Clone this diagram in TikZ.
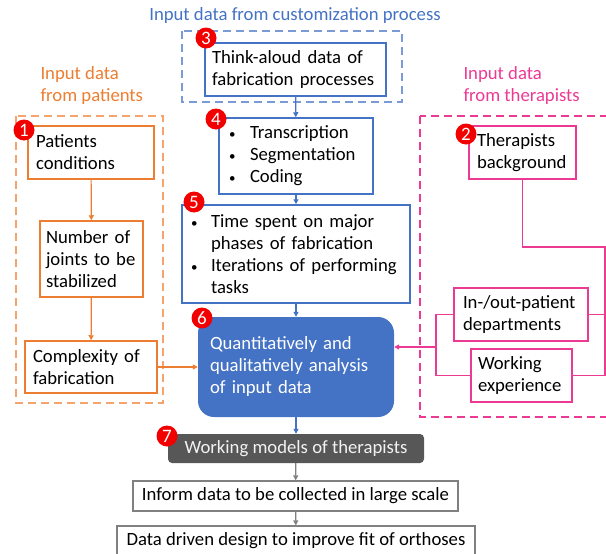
\documentclass[tikz,border=0pt]{standalone}
\usepackage{fontspec}
\setmainfont{Carlito}
\usetikzlibrary{arrows.meta}
\definecolor{cblue}{HTML}{4472C4}
\definecolor{cbluedash}{HTML}{7C9BD6}
\definecolor{corange}{HTML}{ED7D31}
\definecolor{corangedash}{HTML}{F4A46C}
\definecolor{cpink}{HTML}{EC3A94}
\definecolor{cdark}{HTML}{575757}
\definecolor{cgrey}{HTML}{808080}
\definecolor{cred}{HTML}{F20000}
\newcommand{\bul}[1]{\makebox[#1][l]{\fontsize{13}{13}\selectfont\textbullet}}
\begin{document}
\begin{tikzpicture}[x=1pt, y=-1pt,
	every node/.style={font=\fontsize{18.7}{22}\selectfont, inner ysep=0pt},
	box/.style={draw, line width=1.5pt, align=left, inner xsep=8pt},
	bluebox/.style={box, draw=cblue},
	orangebox/.style={box, draw=corange},
	pinkbox/.style={box, draw=cpink},
	greybox/.style={draw=cgrey, line width=1.2pt, align=center},
	group/.style={line width=2.2pt, dash pattern=on 8pt off 5pt},
	badge/.style={circle, fill=cred, text=white, minimum size=21pt, inner sep=0pt, font=\fontsize{19}{19}\selectfont},
	arr/.style={line width=1.2pt, -{Triangle[length=5pt,width=5pt]}}]
	\useasboundingbox (0,0) rectangle (606,554);
	% dashed groups
	\draw[group, cbluedash] (182,31) rectangle (402,102);
	\draw[group, corangedash] (16,116) rectangle (163,403);
	\draw[group, cpink] (420,116) rectangle (616,417);
	\node[text=cblue] (ttop) at (295,16) {Input data from customization process};
	\node[text=corange, align=left, anchor=west] (tleft) at (37,86) {Input data\\from patients};
	\node[text=cpink, align=left, anchor=west] (tright) at (460,86) {Input data\\from therapists};
	% centre column
	\node[bluebox, inner xsep=7pt, text width=167, minimum height=53] (think) at (295.5,69.5) {Think-aloud data of\\fabrication processes};
	\node[bluebox, inner xsep=10pt, text width=134, minimum height=76] (steps) at (296,156) {\bul{21pt}Transcription\\\bul{21pt}Segmentation\\\bul{21pt}Coding};
	\node[bluebox, inner xsep=9pt, text width=210, minimum height=98] (phases) at (296,254) {\bul{20pt}Time spent on major\\\hspace*{20pt}phases of fabrication\\\bul{20pt}Iterations of performing\\\hspace*{20pt}tasks};
	\node[fill=cblue, rounded corners=16pt, text=white, align=left, inner xsep=12pt, text width=172, minimum height=100] (analysis) at (296,367) {Quantitatively and\\qualitatively analysis\\of input data};
	\node[fill=cdark, rounded corners=4pt, text=white!95!black, minimum width=256, minimum height=29] (models) at (296,448.5) {Working models of therapists};
	\node[greybox, minimum width=325, minimum height=30] (inform) at (295.5,496) {Inform data to be collected in large scale};
	\node[greybox, minimum width=358, minimum height=30] (design) at (296,541) {Data driven design to improve fit of orthoses};
	% patients
	\node[orangebox, text width=110, minimum height=53] (cond) at (91,152.5) {Patients\\conditions};
	\node[orangebox, inner xsep=6pt, text width=91, minimum height=76] (joints) at (91.5,259) {Number of\\joints to be\\stabilized};
	\node[orangebox, text width=116, minimum height=52] (complex) at (91,367) {Complexity of\\fabrication};
	% therapists
	\node[pinkbox, inner xsep=8pt, text width=91, minimum height=53] (backgr) at (522.5,152.5) {Therapists\\background};
	\node[pinkbox, inner xsep=9pt, text width=116, minimum height=53] (dept) at (521,314.5) {In-/out-patient\\departments};
	\node[pinkbox, inner xsep=7pt, text width=87, minimum height=53] (exper) at (521.5,375.5) {Working\\experience};
	\coordinate (pr) at (605,247);
	\coordinate (pl) at (436,347);
	% connectors
	\draw[arr, cblue] (think) -- (steps);
	\draw[arr, cblue] (steps) -- (phases);
	\draw[arr, cblue] (phases) -- (analysis);
	\draw[arr, cblue] (analysis) -- (models);
	\draw[arr, cgrey] (models) -- (inform);
	\draw[arr, cgrey] (inform) -- (design);
	\draw[arr, corange] (cond) -- (joints);
	\draw[arr, corange] (joints) -- (complex);
	\draw[arr, corange] (complex) -- (analysis);
	\draw[line width=1.5pt, cpink] (backgr.south) |- (pr) |- (exper.east);
	\draw[line width=1.5pt, cpink] (dept.east) -- (dept.east -| pr);
	\draw[line width=1.5pt, cpink] (dept.west) -| (pl) |- (exper.west);
	\draw[arr, cpink] (pl) -- (pl -| analysis.east);
	% numbers
	\node[badge] (b1) at (24,130) {1};
	\node[badge] (b2) at (466,134) {2};
	\node[badge] (b3) at (206,38) {3};
	\node[badge] (b4) at (216,119) {4};
	\node[badge] (b5) at (194,202) {5};
	\node[badge] (b6) at (202,318) {6};
	\node[badge] (b7) at (167,436) {7};
\end{tikzpicture}
\end{document}
